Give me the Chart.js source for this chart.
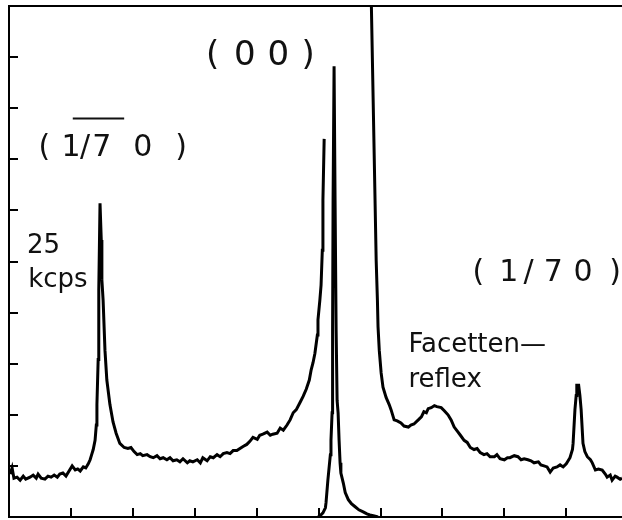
<!DOCTYPE html>
<html>
<head>
<meta charset="utf-8">
<script src="https://cdn.jsdelivr.net/npm/chart.js@4"></script>
<style>
  html, body { margin: 0; padding: 0; background: #fff; }
  canvas { display: block; }
</style>
</head>
<body>
<canvas id="scan" width="622" height="520"></canvas>
<script>
// main scan: position (tick units) and count rate (kcps); the null marks where the trace breaks at (0 0)
const mainX = [0.02, 0.05, 0.08, 0.13, 0.18, 0.23, 0.27, 0.34, 0.39, 0.44, 0.47, 0.52, 0.58, 0.63, 0.68, 0.73, 0.78, 0.82, 0.87, 0.92,
  0.97, 1.02, 1.07, 1.11, 1.15, 1.20, 1.24, 1.28, 1.31, 1.34, 1.36, 1.39, 1.41, 1.42, 1.44, 1.45, 1.47, 1.49, 1.50, 1.52,
  1.55, 1.58, 1.63, 1.68, 1.73, 1.79, 1.86, 1.92, 1.97, 2.02, 2.07, 2.12, 2.16, 2.23, 2.28, 2.33, 2.39, 2.44, 2.49, 2.55,
  2.60, 2.65, 2.71, 2.76, 2.81, 2.88, 2.92, 2.97, 3.04, 3.09, 3.13, 3.20, 3.25, 3.30, 3.36, 3.41, 3.46, 3.52, 3.57, 3.62,
  3.68, 3.73, 3.78, 3.84, 3.89, 3.94, 4.01, 4.05, 4.10, 4.17, 4.22, 4.26, 4.33, 4.38, 4.43, 4.49, 4.54, 4.59, 4.64, 4.70,
  4.75, 4.80, 4.85, 4.88, 4.91, 4.94, 4.98, 4.99, 5.02, 5.04, 5.06, 5.07, 5.09,
  5.50,
  5.84, 5.93, 5.95, 5.96, 5.98, 6.01, 6.04, 6.09, 6.14, 6.17, 6.22, 6.27, 6.33, 6.38, 6.45, 6.49, 6.54, 6.61, 6.66, 6.70,
  6.74, 6.77, 6.82, 6.87, 6.91, 6.98, 7.03, 7.09, 7.14, 7.19, 7.24, 7.29, 7.35, 7.40, 7.45, 7.51, 7.56, 7.61, 7.67, 7.72,
  7.77, 7.84, 7.88, 7.93, 8.00, 8.05, 8.09, 8.16, 8.22, 8.27, 8.32, 8.38, 8.43, 8.48, 8.55, 8.59, 8.64, 8.69, 8.74, 8.79,
  8.85, 8.90, 8.95, 9.00, 9.06, 9.10, 9.11, 9.14, 9.16, 9.17, 9.20, 9.22, 9.24, 9.27, 9.30, 9.34, 9.39, 9.42, 9.47, 9.52,
  9.58, 9.63, 9.66, 9.71, 9.74, 9.79, 9.82, 9.87, 9.90];
const mainKcps = [4.2, 4.8, 3.8, 3.9, 3.6, 4.0, 3.7, 3.9, 4.1, 3.8, 4.2, 3.8, 3.7, 4.0, 3.9, 4.1, 3.9, 4.2, 4.3, 4.0,
  4.5, 5.0, 4.6, 4.7, 4.5, 4.9, 4.8, 5.2, 5.6, 6.2, 6.6, 7.5, 9.0, 11.0, 15.4, 22.2, 30.7, 27.1, 23.2, 21.2,
  16.3, 13.4, 11.0, 9.3, 8.2, 7.2, 6.8, 6.7, 6.8, 6.4, 6.1, 6.2, 6.0, 6.1, 5.9, 5.8, 6.0, 5.7, 5.8, 5.6,
  5.8, 5.5, 5.6, 5.4, 5.7, 5.3, 5.5, 5.4, 5.6, 5.3, 5.8, 5.5, 5.9, 5.8, 6.1, 5.9, 6.2, 6.3, 6.2, 6.5,
  6.5, 6.7, 6.9, 7.1, 7.4, 7.8, 7.6, 8.0, 8.1, 8.3, 8.0, 8.1, 8.2, 8.7, 8.5, 9.0, 9.5, 10.2, 10.5, 11.2,
  11.8, 12.5, 13.4, 14.4, 15.1, 16.0, 17.8, 19.3, 21.2, 22.7, 26.1, 31.0, 37.0,
  null,
  54.0, 25.1, 21.2, 18.6, 16.3, 14.1, 12.7, 11.7, 11.0, 10.5, 9.5, 9.4, 9.2, 8.9, 8.8, 9.0, 9.1, 9.5, 9.8, 10.3,
  10.2, 10.6, 10.7, 10.9, 10.8, 10.7, 10.4, 10.0, 9.5, 8.8, 8.4, 8.0, 7.5, 7.3, 6.8, 6.6, 6.7, 6.3, 6.1, 6.2,
  5.9, 5.9, 6.1, 5.7, 5.6, 5.8, 5.8, 6.0, 5.9, 5.6, 5.7, 5.6, 5.5, 5.3, 5.4, 5.1, 5.0, 4.9, 4.4, 4.8,
  4.9, 5.1, 4.9, 5.2, 5.8, 6.6, 7.2, 10.5, 11.9, 12.9, 12.9, 11.9, 10.5, 7.2, 6.4, 5.9, 5.6, 5.3, 4.6, 4.7,
  4.6, 4.2, 3.9, 4.1, 3.6, 4.0, 3.9, 3.7, 3.8];

// narrow (0 0) peak, recorded on its own trace
const peakX = [4.99, 5.02, 5.07, 5.11, 5.12, 5.15, 5.19, 5.20, 5.218, 5.226, 5.234, 5.250, 5.266, 5.283, 5.299, 5.315,
  5.331, 5.347, 5.36, 5.40, 5.43, 5.48, 5.53, 5.59, 5.65, 5.72, 5.78, 5.83, 5.90, 5.96];
const peakKcps = [0, 0.1, 0.4, 0.9, 1.4, 3.6, 6.1, 7.5, 10.2, 18.3, 31.0, 44.1, 31.0, 18.3, 11.4, 10.2,
  7.5, 5.3, 4.3, 3.3, 2.4, 1.7, 1.3, 1.0, 0.7, 0.5, 0.3, 0.2, 0.1, 0];

// tick marks on the axes
const xTickValues = [1, 2, 3, 4, 5, 6, 7, 8, 9];
const yTickValues = [5, 10, 15, 20, 25, 30, 35, 40, 45];

const toPoints = (xs, ys) => xs.map((x, i) => ({ x: x, y: ys[i] }));

const FONT = '"DejaVu Sans", sans-serif';

// text pieces: [string, x centre] on a shared baseline value
const labels = [
  { size: 34, y: 44.2, pieces: [['(', 3.29], ['0', 3.81], ['0', 4.35], [')', 4.83]] },
  { size: 30, y: 35.3, pieces: [['(', 0.57], ['1', 1.00], ['/', 1.23], ['7', 1.50], ['0', 2.16], [')', 2.78]],
    bar: [1.03, 1.86, 39.0] },
  { size: 30, y: 23.1, pieces: [['(', 7.58], ['1', 8.07], ['/', 8.39], ['7', 8.79], ['0', 9.27], [')', 9.79]] }
];
const notes = [
  { text: '25', x: 0.29, y: 25.8, size: 26 },
  { text: 'kcps', x: 0.31, y: 22.5, size: 26 },
  { text: 'Facetten\u2014', x: 6.45, y: 16.1, size: 26 },
  { text: 'reflex', x: 6.45, y: 12.7, size: 26 }
];

const inwardTicks = {
  id: 'inwardTicks',
  afterDatasetsDraw(chart) {
    const { ctx, chartArea, scales: { x, y } } = chart;
    ctx.save();
    ctx.strokeStyle = '#000';
    ctx.lineWidth = 2;
    ctx.beginPath();
    xTickValues.forEach(v => {
      const px = Math.round(x.getPixelForValue(v));
      ctx.moveTo(px, chartArea.bottom);
      ctx.lineTo(px, chartArea.bottom - 9);
    });
    yTickValues.forEach(v => {
      const py = Math.round(y.getPixelForValue(v));
      ctx.moveTo(chartArea.left, py);
      ctx.lineTo(chartArea.left + 9, py);
    });
    ctx.stroke();
    ctx.restore();
  }
};

const annotations = {
  id: 'annotations',
  afterDraw(chart) {
    const { ctx, scales: { x, y } } = chart;
    ctx.save();
    ctx.fillStyle = '#111';
    ctx.strokeStyle = '#111';
    ctx.textBaseline = 'alphabetic';
    labels.forEach(l => {
      ctx.font = l.size + 'px ' + FONT;
      ctx.textAlign = 'center';
      const py = y.getPixelForValue(l.y);
      l.pieces.forEach(([t, xv]) => ctx.fillText(t, x.getPixelForValue(xv), py));
      if (l.bar) {
        const by = y.getPixelForValue(l.bar[2]);
        ctx.lineWidth = 2;
        ctx.beginPath();
        ctx.moveTo(x.getPixelForValue(l.bar[0]), by);
        ctx.lineTo(x.getPixelForValue(l.bar[1]), by);
        ctx.stroke();
      }
    });
    ctx.textAlign = 'left';
    notes.forEach(n => {
      ctx.font = n.size + 'px ' + FONT;
      ctx.fillText(n.text, x.getPixelForValue(n.x), y.getPixelForValue(n.y));
    });
    ctx.restore();
  }
};

const lineStyle = {
  borderColor: '#000',
  borderWidth: 3,
  pointRadius: 0,
  tension: 0,
  fill: false,
  spanGaps: false
};

new Chart(document.getElementById('scan'), {
  type: 'line',
  data: {
    datasets: [
      Object.assign({ label: 'scan', data: toPoints(mainX, mainKcps) }, lineStyle),
      Object.assign({ label: '(0 0)', data: toPoints(peakX, peakKcps) }, lineStyle)
    ]
  },
  options: {
    responsive: false,
    devicePixelRatio: 1,
    animation: false,
    layout: { padding: { left: 9, top: 6, right: 0, bottom: 3 } },
    plugins: { legend: { display: false }, tooltip: { enabled: false } },
    scales: {
      x: {
        type: 'linear', position: 'bottom', min: 0, max: 9.9,
        ticks: { display: false },
        grid: { display: false, drawTicks: false },
        border: { color: '#000', width: 2 }
      },
      xTop: {
        type: 'linear', position: 'top', min: 0, max: 9.9,
        ticks: { display: false },
        grid: { display: false, drawTicks: false },
        border: { color: '#000', width: 2 }
      },
      y: {
        type: 'linear', position: 'left', min: 0, max: 50,
        ticks: { display: false },
        grid: { display: false, drawTicks: false },
        border: { color: '#000', width: 2 }
      }
    }
  },
  plugins: [inwardTicks, annotations]
});
</script>
</body>
</html>
